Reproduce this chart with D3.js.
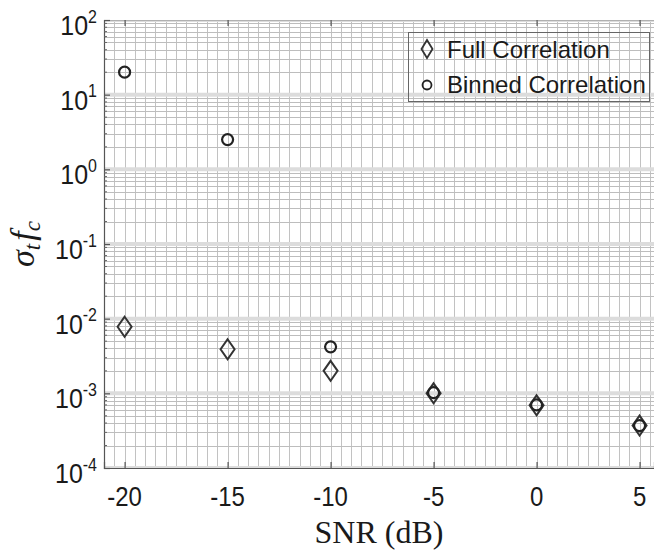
<!DOCTYPE html>
<html>
<head>
<meta charset="utf-8">
<script src="https://cdn.jsdelivr.net/npm/d3@7/dist/d3.min.js"></script>
<style>
  html, body { margin: 0; padding: 0; background: #fff; }
  svg { display: block; }
</style>
</head>
<body>
<svg id="chart" width="654" height="550"></svg>
<script>
// ---- data ----
const snr = [-20, -15, -10, -5, 0, 5];
const fullCorr = [0.0078, 0.0039, 0.0020, 0.0010, 0.00069, 0.00037];
const binnedCorr = [20, 2.5, 0.0042, 0.00102, 0.00070, 0.00037];
const xTicks = [-20, -15, -10, -5, 0, 5];
const yTickExps = [2, 1, 0, -1, -2, -3, -4];
const seriesNames = ["Full Correlation", "Binned Correlation"];

// ---- layout ----
const svg = d3.select("#chart");
const L = 104, R = 654, T = 20, B = 468;
const x = d3.scaleLinear().domain([-21, 5.7]).range([L, R]);
const y = d3.scaleLog().domain([1e-4, 1e2]).range([B, T]);

svg.append("rect").attr("width", 654).attr("height", 550).attr("fill", "#fff");

svg.append("defs").append("clipPath").attr("id", "pa")
  .append("rect").attr("x", L).attr("y", T).attr("width", R - L).attr("height", B - T);

const grid = svg.append("g").attr("clip-path", "url(#pa)");

// vertical grid (every 0.5 dB)
const xMinor = d3.range(-21, 5.75, 0.5);
grid.selectAll(".vx").data(xMinor).join("line")
  .attr("x1", d => Math.round(x(d)) + 0.5).attr("x2", d => Math.round(x(d)) + 0.5)
  .attr("y1", T).attr("y2", B)
  .attr("stroke", "#c2c2c2").attr("stroke-width", 1);

// horizontal grid (log minor + major)
const yMinor = [];
for (let e = -4; e < 2; e++) for (let k = 2; k <= 9; k++) yMinor.push(k * Math.pow(10, e));
const yMajor = yTickExps.map(e => Math.pow(10, e));
grid.selectAll(".hy").data(yMajor).join("line")
  .attr("x1", L).attr("x2", R)
  .attr("y1", d => y(d)).attr("y2", d => y(d))
  .attr("stroke", "#dcdcdc").attr("stroke-width", 4);
grid.selectAll(".hm").data(yMinor).join("line")
  .attr("x1", L).attr("x2", R)
  .attr("y1", d => Math.round(y(d)) + 0.5).attr("y2", d => Math.round(y(d)) + 0.5)
  .attr("stroke", "#bdbdbd").attr("stroke-width", 1);

// axes via d3 axis (ticks inside)
const xAxisB = d3.axisBottom(x).tickValues(xTicks).tickSize(-6).tickFormat("");
const xAxisT = d3.axisTop(x).tickValues(xTicks).tickSize(-6).tickFormat("");
const yAxisL = d3.axisLeft(y).tickValues(yMajor).tickSize(-6).tickFormat("");
const gxb = svg.append("g").attr("transform", `translate(0,${B})`).call(xAxisB);
const gxt = svg.append("g").attr("transform", `translate(0,${T})`).call(xAxisT);
const gyl = svg.append("g").attr("transform", `translate(${L},0)`).call(yAxisL);
[gxb, gxt, gyl].forEach(g => {
  g.selectAll(".tick line").attr("stroke", "#555").attr("stroke-width", 1.2);
});
gxb.select(".domain").attr("stroke", "#555").attr("stroke-width", 1.2);
gyl.select(".domain").attr("stroke", "#555").attr("stroke-width", 1.2);
gxt.select(".domain").attr("stroke", "#b0b0b0").attr("stroke-width", 1);
// minor y ticks
svg.append("g").selectAll("line").data(yMinor).join("line")
  .attr("x1", L).attr("x2", L + 3)
  .attr("y1", d => y(d)).attr("y2", d => y(d))
  .attr("stroke", "#666").attr("stroke-width", 1);

// tick labels
const sans = "'Liberation Sans', Arial, Helvetica, sans-serif";
svg.append("g").selectAll("text").data(xTicks).join("text")
  .attr("transform", d => `translate(${x(d)},${B + 38}) scale(1,1.12)`)
  .attr("text-anchor", "middle")
  .attr("font-family", sans).attr("font-size", 24).attr("fill", "#1a1a1a")
  .text(d => d < 0 ? "-" + Math.abs(d) : String(d));

const yl = svg.append("g").selectAll("g").data(yTickExps).join("g")
  .attr("transform", d => `translate(97,${y(Math.pow(10, d)) + 15}) scale(1,1.12)`);
yl.append("text")
  .attr("text-anchor", "end")
  .attr("font-family", sans).attr("font-size", 25).attr("fill", "#1a1a1a")
  .each(function(d) {
    const t = d3.select(this);
    t.append("tspan").text("10");
    t.append("tspan").attr("dy", -11).attr("font-size", 16).text(String(d));
  });

// axis titles
svg.append("text")
  .attr("x", (L + R) / 2).attr("y", 543)
  .attr("text-anchor", "middle")
  .attr("font-family", "'Liberation Serif', 'Times New Roman', serif")
  .attr("font-size", 32).attr("fill", "#1a1a1a")
  .text("SNR (dB)");

const ylab = svg.append("text")
  .attr("transform", `translate(34,${(T + B) / 2}) rotate(-90)`)
  .attr("text-anchor", "middle")
  .attr("font-family", "'Liberation Serif', 'Times New Roman', serif")
  .attr("font-style", "italic")
  .attr("font-size", 34).attr("fill", "#1a1a1a");
ylab.append("tspan").text("σ");
ylab.append("tspan").attr("dy", 6).attr("font-size", 23).text("t");
ylab.append("tspan").attr("dy", -6).attr("dx", 3).text("f");
ylab.append("tspan").attr("dy", 6).attr("font-size", 23).text("c");

// markers
const diamond = (w, h) => `M0,${-h / 2}L${w / 2},0L0,${h / 2}L${-w / 2},0Z`;
const pts = snr.map((s, i) => ({ s, full: fullCorr[i], bin: binnedCorr[i] }));
const marks = svg.append("g");
marks.selectAll(".dm").data(pts).join("path")
  .attr("d", diamond(14, 20))
  .attr("transform", d => `translate(${x(d.s)},${y(d.full)})`)
  .attr("fill", "none").attr("stroke", "#333").attr("stroke-width", 2);
marks.selectAll(".cm").data(pts).join("circle")
  .attr("cx", d => x(d.s)).attr("cy", d => y(d.bin)).attr("r", 5.5)
  .attr("fill", "none").attr("stroke", "#222").attr("stroke-width", 2.2);

// legend
const lg = svg.append("g");
lg.append("rect").attr("x", 408.5).attr("y", 32.5).attr("width", 241).attr("height", 69)
  .attr("fill", "none").attr("stroke", "#666").attr("stroke-width", 1);
lg.append("path").attr("d", diamond(11, 18)).attr("transform", "translate(427,49)")
  .attr("fill", "none").attr("stroke", "#333").attr("stroke-width", 1.8);
lg.append("circle").attr("cx", 427).attr("cy", 85).attr("r", 4.5)
  .attr("fill", "none").attr("stroke", "#222").attr("stroke-width", 1.8);
lg.selectAll("text").data(seriesNames).join("text")
  .attr("x", 447).attr("y", (d, i) => 58 + i * 35)
  .attr("font-family", sans).attr("font-size", 24).attr("fill", "#1a1a1a")
  .text(d => d);
</script>
</body>
</html>
